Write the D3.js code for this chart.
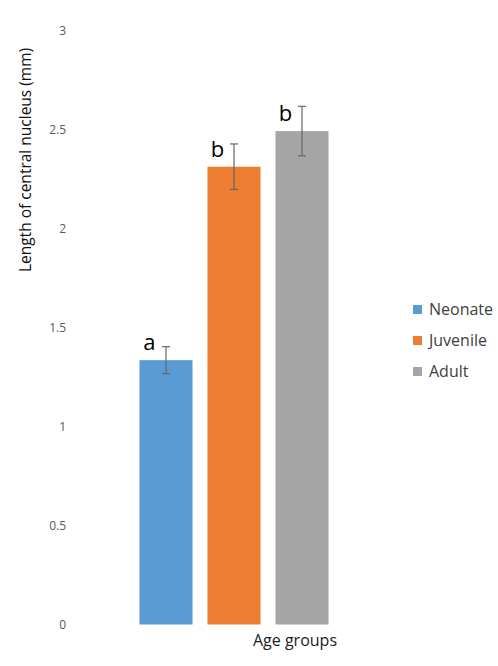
<!DOCTYPE html>
<html>
<head>
<meta charset="utf-8">
<script src="https://cdn.jsdelivr.net/npm/d3@7/dist/d3.min.js"></script>
<style>
  html, body { margin: 0; padding: 0; background: #fff; }
  svg { display: block; font-family: "Open Sans", sans-serif; }
</style>
</head>
<body>
<div id="chart"></div>
<script>
const categories = ["Neonate", "Juvenile", "Adult"];
const means = [1.335, 2.312, 2.492];
const errors = [0.068, 0.115, 0.125];
const letters = ["a", "b", "b"];
const colors = ["#5B9BD5", "#ED7D31", "#A5A5A5"];
const yTicks = [0, 0.5, 1, 1.5, 2, 2.5, 3];

const W = 498, H = 666;
const svg = d3.select("#chart").append("svg").attr("width", W).attr("height", H);

const y = d3.scaleLinear().domain([0, 3]).range([624.5, 30.5]);
const x = d3.scaleBand().domain(categories).range([132, 336]).paddingInner(0.22).paddingOuter(0.11);

// y axis tick labels
const yAxis = d3.axisLeft(y).tickValues(yTicks).tickSize(0).tickPadding(0).tickFormat(d3.format("~g"));
const gy = svg.append("g").attr("transform", "translate(66,0)").call(yAxis);
gy.select(".domain").remove();
gy.selectAll("text").attr("fill", "#595959").style("font-size", "12px").style("font-family", "'Open Sans', sans-serif");

// bars
svg.selectAll("rect.bar").data(categories).enter().append("rect")
  .attr("class", "bar")
  .attr("x", d => x(d))
  .attr("y", (d, i) => y(means[i]))
  .attr("width", x.bandwidth())
  .attr("height", (d, i) => y(0) - y(means[i]))
  .attr("fill", (d, i) => colors[i]);

// error bars
const eg = svg.append("g").attr("stroke", "#666").attr("stroke-width", 1.2);
categories.forEach((c, i) => {
  const cx = x(c) + x.bandwidth() / 2;
  const t = y(means[i] + errors[i]), b = y(means[i] - errors[i]);
  eg.append("line").attr("x1", cx).attr("x2", cx).attr("y1", t).attr("y2", b);
  eg.append("line").attr("x1", cx - 4).attr("x2", cx + 4).attr("y1", t).attr("y2", t);
  eg.append("line").attr("x1", cx - 4).attr("x2", cx + 4).attr("y1", b).attr("y2", b);
});

// significance letters
svg.selectAll("text.letter").data(categories).enter().append("text")
  .attr("class", "letter")
  .attr("x", d => x(d) + 10)
  .attr("y", (d, i) => y(means[i]) - 10)
  .attr("text-anchor", "middle")
  .attr("fill", "#000")
  .style("font-size", "22px")
  .text((d, i) => letters[i]);

// axis titles
svg.append("text")
  .attr("transform", "translate(31,160) rotate(-90)")
  .attr("text-anchor", "middle")
  .attr("fill", "#111")
  .style("font-size", "15.5px")
  .text("Length of central nucleus (mm)");

svg.append("text")
  .attr("x", 295).attr("y", 646)
  .attr("text-anchor", "middle")
  .attr("fill", "#222")
  .style("font-size", "16px")
  .text("Age groups");

// legend
const lg = svg.append("g");
categories.forEach((c, i) => {
  const ly = 305 + i * 31;
  lg.append("rect").attr("x", 413).attr("y", ly).attr("width", 9).attr("height", 9).attr("fill", colors[i]);
  lg.append("text").attr("x", 429).attr("y", ly + 10).attr("fill", "#404040")
    .style("font-size", "16px").text(c);
});
</script>
</body>
</html>
